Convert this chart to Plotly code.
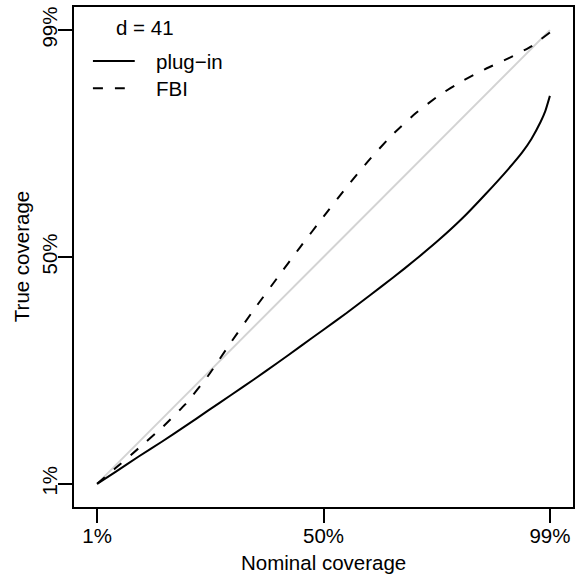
import plotly.graph_objects as go

# Data
nominal = [0.01, 0.05, 0.10, 0.15, 0.20, 0.25, 0.30, 0.35, 0.40, 0.45, 0.50,
           0.55, 0.60, 0.65, 0.70, 0.75, 0.80, 0.85, 0.90, 0.93, 0.95, 0.97, 0.98, 0.99]
plugin = [0.010, 0.036, 0.069, 0.101, 0.134, 0.168, 0.202, 0.236, 0.271, 0.307, 0.343,
          0.379, 0.417, 0.455, 0.495, 0.537, 0.583, 0.635, 0.690, 0.726, 0.755, 0.792, 0.815, 0.848]
fbi_nominal = [0.01, 0.05, 0.10, 0.15, 0.20, 0.25, 0.30, 0.35, 0.40, 0.45, 0.50,
               0.55, 0.60, 0.65, 0.70, 0.75, 0.80, 0.85, 0.90, 0.95, 0.97, 0.99]
fbi = [0.010, 0.044, 0.087, 0.131, 0.181, 0.243, 0.316, 0.387, 0.455, 0.522, 0.587,
       0.651, 0.711, 0.765, 0.811, 0.849, 0.880, 0.906, 0.929, 0.955, 0.970, 0.985]
diag = [0.01, 0.99]
tick_vals = [0.01, 0.50, 0.99]
tick_text = ["1%", "50%", "99%"]

FONT = "Liberation Sans, Arial, Helvetica, sans-serif"
FS = 20.5

fig = go.Figure()
fig.add_trace(go.Scatter(x=diag, y=diag, mode="lines",
                         line=dict(color="#d3d3d3", width=2), showlegend=False))
fig.add_trace(go.Scatter(x=nominal, y=plugin, mode="lines",
                         line=dict(color="black", width=2, shape="spline", smoothing=0.5),
                         showlegend=False))
fig.add_trace(go.Scatter(x=fbi_nominal, y=fbi, mode="lines",
                         line=dict(color="black", width=2, dash="10px,12px",
                                   shape="spline", smoothing=0.5),
                         showlegend=False))

L, R, T, B = 74, 1, 7, 69.5
W, H = 576, 577
pw, ph = W - L - R, H - T - B

def px(x):
    return (x - L) / pw

def py(y):
    return (H - B - y) / ph

axis_common = dict(range=[-0.04, 1.04], tickvals=tick_vals, ticktext=tick_text,
                   ticks="outside", ticklen=14, tickwidth=1.5, tickcolor="black",
                   showgrid=False, zeroline=False, showline=True, linecolor="black",
                   linewidth=1.5, mirror=True,
                   tickfont=dict(family=FONT, size=FS, color="black"))

fig.update_layout(
    width=W, height=H,
    margin=dict(l=L, r=R, t=T, b=B),
    paper_bgcolor="white", plot_bgcolor="white",
    xaxis=dict(**axis_common, ticklabelstandoff=-4),
    yaxis=dict(**axis_common, tickangle=-90, ticklabelstandoff=-7),
    shapes=[
        dict(type="line", xref="paper", yref="paper", x0=px(93), x1=px(135),
             y0=py(61), y1=py(61), line=dict(color="black", width=2)),
        dict(type="line", xref="paper", yref="paper", x0=px(93), x1=px(125),
             y0=py(88.3), y1=py(88.3), line=dict(color="black", width=2, dash="10px,12px")),
    ],
    annotations=[
        dict(text="d = 41", xref="paper", yref="paper", x=px(145), y=py(28),
             xanchor="center", yanchor="middle", showarrow=False,
             font=dict(family=FONT, size=FS, color="black")),
        dict(text="plug\u2212in", xref="paper", yref="paper", x=px(154), y=py(62),
             xanchor="left", yanchor="middle", showarrow=False,
             font=dict(family=FONT, size=FS, color="black")),
        dict(text="FBI", xref="paper", yref="paper", x=px(154), y=py(88.3),
             xanchor="left", yanchor="middle", showarrow=False,
             font=dict(family=FONT, size=FS, color="black")),
        dict(text="Nominal coverage", xref="paper", yref="paper", x=0.5, y=py(563),
             xanchor="center", yanchor="middle", showarrow=False,
             font=dict(family=FONT, size=FS, color="black")),
        dict(text="True coverage", xref="paper", yref="paper", x=px(21), y=0.5,
             xanchor="center", yanchor="middle", showarrow=False, textangle=-90,
             font=dict(family=FONT, size=FS, color="black")),
    ],
)

fig.write_html("out.html")
